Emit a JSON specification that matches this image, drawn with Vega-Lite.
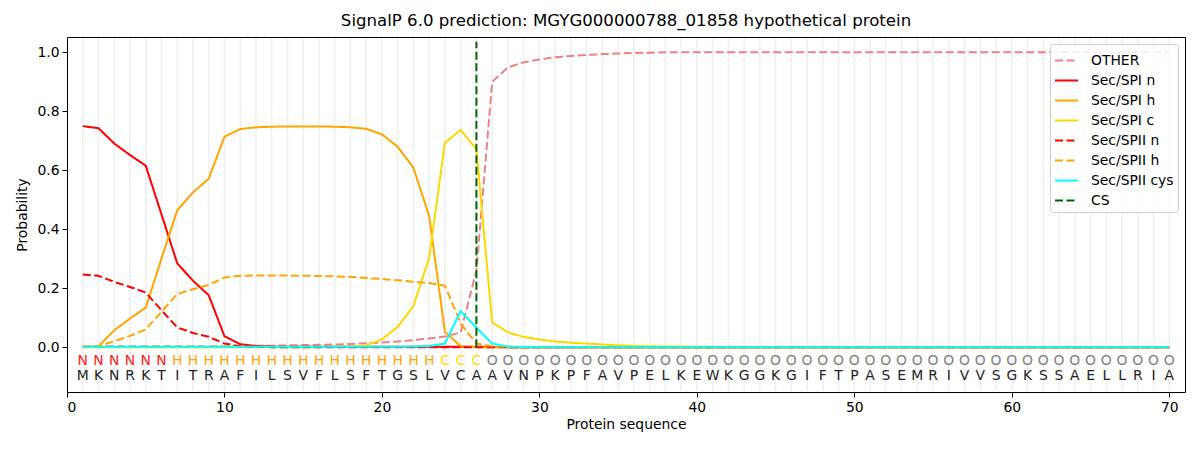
{
  "$schema": "https://vega.github.io/schema/vega-lite/v6.json",
  "width": 1118,
  "height": 355,
  "autosize": {"type": "none"},
  "padding": {"left": 67, "top": 37, "right": 15, "bottom": 58},
  "title": {"text": "SignalP 6.0 prediction: MGYG000000788_01858 hypothetical protein", "offset": 7},
  "datasets": {
    "residues": [
      {"p":1,"aa":"M","lab":"N"},{"p":2,"aa":"K","lab":"N"},{"p":3,"aa":"N","lab":"N"},{"p":4,"aa":"R","lab":"N"},{"p":5,"aa":"K","lab":"N"},
      {"p":6,"aa":"T","lab":"N"},{"p":7,"aa":"I","lab":"H"},{"p":8,"aa":"T","lab":"H"},{"p":9,"aa":"R","lab":"H"},{"p":10,"aa":"A","lab":"H"},
      {"p":11,"aa":"F","lab":"H"},{"p":12,"aa":"I","lab":"H"},{"p":13,"aa":"L","lab":"H"},{"p":14,"aa":"S","lab":"H"},{"p":15,"aa":"V","lab":"H"},
      {"p":16,"aa":"F","lab":"H"},{"p":17,"aa":"L","lab":"H"},{"p":18,"aa":"S","lab":"H"},{"p":19,"aa":"F","lab":"H"},{"p":20,"aa":"T","lab":"H"},
      {"p":21,"aa":"G","lab":"H"},{"p":22,"aa":"S","lab":"H"},{"p":23,"aa":"L","lab":"H"},{"p":24,"aa":"V","lab":"C"},{"p":25,"aa":"C","lab":"C"},
      {"p":26,"aa":"A","lab":"C"},{"p":27,"aa":"A","lab":"O"},{"p":28,"aa":"V","lab":"O"},{"p":29,"aa":"N","lab":"O"},{"p":30,"aa":"P","lab":"O"},
      {"p":31,"aa":"K","lab":"O"},{"p":32,"aa":"P","lab":"O"},{"p":33,"aa":"F","lab":"O"},{"p":34,"aa":"A","lab":"O"},{"p":35,"aa":"V","lab":"O"},
      {"p":36,"aa":"P","lab":"O"},{"p":37,"aa":"E","lab":"O"},{"p":38,"aa":"L","lab":"O"},{"p":39,"aa":"K","lab":"O"},{"p":40,"aa":"E","lab":"O"},
      {"p":41,"aa":"W","lab":"O"},{"p":42,"aa":"K","lab":"O"},{"p":43,"aa":"G","lab":"O"},{"p":44,"aa":"G","lab":"O"},{"p":45,"aa":"K","lab":"O"},
      {"p":46,"aa":"G","lab":"O"},{"p":47,"aa":"I","lab":"O"},{"p":48,"aa":"F","lab":"O"},{"p":49,"aa":"T","lab":"O"},{"p":50,"aa":"P","lab":"O"},
      {"p":51,"aa":"A","lab":"O"},{"p":52,"aa":"S","lab":"O"},{"p":53,"aa":"E","lab":"O"},{"p":54,"aa":"M","lab":"O"},{"p":55,"aa":"R","lab":"O"},
      {"p":56,"aa":"I","lab":"O"},{"p":57,"aa":"V","lab":"O"},{"p":58,"aa":"V","lab":"O"},{"p":59,"aa":"S","lab":"O"},{"p":60,"aa":"G","lab":"O"},
      {"p":61,"aa":"K","lab":"O"},{"p":62,"aa":"S","lab":"O"},{"p":63,"aa":"S","lab":"O"},{"p":64,"aa":"A","lab":"O"},{"p":65,"aa":"E","lab":"O"},
      {"p":66,"aa":"L","lab":"O"},{"p":67,"aa":"L","lab":"O"},{"p":68,"aa":"R","lab":"O"},{"p":69,"aa":"I","lab":"O"},{"p":70,"aa":"A","lab":"O"}
    ],
    "probs": [
      {"s":"OTHER","p":1,"v":0.003},{"s":"OTHER","p":2,"v":0.003},{"s":"OTHER","p":3,"v":0.003},{"s":"OTHER","p":4,"v":0.003},{"s":"OTHER","p":5,"v":0.003},
      {"s":"OTHER","p":6,"v":0.003},{"s":"OTHER","p":7,"v":0.003},{"s":"OTHER","p":8,"v":0.003},{"s":"OTHER","p":9,"v":0.003},{"s":"OTHER","p":10,"v":0.003},
      {"s":"OTHER","p":11,"v":0.004},{"s":"OTHER","p":12,"v":0.005},{"s":"OTHER","p":13,"v":0.005},{"s":"OTHER","p":14,"v":0.006},{"s":"OTHER","p":15,"v":0.007},
      {"s":"OTHER","p":16,"v":0.008},{"s":"OTHER","p":17,"v":0.009},{"s":"OTHER","p":18,"v":0.011},{"s":"OTHER","p":19,"v":0.013},{"s":"OTHER","p":20,"v":0.016},
      {"s":"OTHER","p":21,"v":0.019},{"s":"OTHER","p":22,"v":0.024},{"s":"OTHER","p":23,"v":0.029},{"s":"OTHER","p":24,"v":0.036},{"s":"OTHER","p":25,"v":0.05},
      {"s":"OTHER","p":26,"v":0.26},{"s":"OTHER","p":27,"v":0.899},{"s":"OTHER","p":28,"v":0.948},{"s":"OTHER","p":29,"v":0.965},{"s":"OTHER","p":30,"v":0.975},
      {"s":"OTHER","p":31,"v":0.982},{"s":"OTHER","p":32,"v":0.987},{"s":"OTHER","p":33,"v":0.99},{"s":"OTHER","p":34,"v":0.993},{"s":"OTHER","p":35,"v":0.995},
      {"s":"OTHER","p":36,"v":0.997},{"s":"OTHER","p":37,"v":0.998},{"s":"OTHER","p":38,"v":0.999},{"s":"OTHER","p":39,"v":0.999},{"s":"OTHER","p":40,"v":0.999},
      {"s":"OTHER","p":41,"v":0.999},{"s":"OTHER","p":42,"v":0.999},{"s":"OTHER","p":43,"v":0.999},{"s":"OTHER","p":44,"v":0.999},{"s":"OTHER","p":45,"v":0.999},
      {"s":"OTHER","p":46,"v":0.999},{"s":"OTHER","p":47,"v":0.999},{"s":"OTHER","p":48,"v":0.999},{"s":"OTHER","p":49,"v":0.999},{"s":"OTHER","p":50,"v":0.999},
      {"s":"OTHER","p":51,"v":0.999},{"s":"OTHER","p":52,"v":0.999},{"s":"OTHER","p":53,"v":0.999},{"s":"OTHER","p":54,"v":0.999},{"s":"OTHER","p":55,"v":0.999},
      {"s":"OTHER","p":56,"v":0.999},{"s":"OTHER","p":57,"v":0.999},{"s":"OTHER","p":58,"v":0.999},{"s":"OTHER","p":59,"v":0.999},{"s":"OTHER","p":60,"v":0.999},
      {"s":"OTHER","p":61,"v":0.999},{"s":"OTHER","p":62,"v":0.999},{"s":"OTHER","p":63,"v":0.999},{"s":"OTHER","p":64,"v":0.999},{"s":"OTHER","p":65,"v":0.999},
      {"s":"OTHER","p":66,"v":0.999},{"s":"OTHER","p":67,"v":0.999},{"s":"OTHER","p":68,"v":0.999},{"s":"OTHER","p":69,"v":0.999},{"s":"OTHER","p":70,"v":0.999},

      {"s":"Sec/SPI n","p":1,"v":0.749},{"s":"Sec/SPI n","p":2,"v":0.742},{"s":"Sec/SPI n","p":3,"v":0.69},{"s":"Sec/SPI n","p":4,"v":0.651},{"s":"Sec/SPI n","p":5,"v":0.615},
      {"s":"Sec/SPI n","p":6,"v":0.45},{"s":"Sec/SPI n","p":7,"v":0.284},{"s":"Sec/SPI n","p":8,"v":0.225},{"s":"Sec/SPI n","p":9,"v":0.176},{"s":"Sec/SPI n","p":10,"v":0.037},
      {"s":"Sec/SPI n","p":11,"v":0.01},{"s":"Sec/SPI n","p":12,"v":0.004},{"s":"Sec/SPI n","p":13,"v":0.002},{"s":"Sec/SPI n","p":14,"v":0.001},{"s":"Sec/SPI n","p":15,"v":0.001},
      {"s":"Sec/SPI n","p":16,"v":0.001},{"s":"Sec/SPI n","p":17,"v":0.001},{"s":"Sec/SPI n","p":18,"v":0.001},{"s":"Sec/SPI n","p":19,"v":0.001},{"s":"Sec/SPI n","p":20,"v":0.001},
      {"s":"Sec/SPI n","p":21,"v":0.001},{"s":"Sec/SPI n","p":22,"v":0.001},{"s":"Sec/SPI n","p":23,"v":0.001},{"s":"Sec/SPI n","p":24,"v":0.001},{"s":"Sec/SPI n","p":25,"v":0.001},
      {"s":"Sec/SPI n","p":26,"v":0.001},{"s":"Sec/SPI n","p":27,"v":0.001},{"s":"Sec/SPI n","p":28,"v":0},{"s":"Sec/SPI n","p":29,"v":0},{"s":"Sec/SPI n","p":30,"v":0},
      {"s":"Sec/SPI n","p":31,"v":0},{"s":"Sec/SPI n","p":32,"v":0},{"s":"Sec/SPI n","p":33,"v":0},{"s":"Sec/SPI n","p":34,"v":0},{"s":"Sec/SPI n","p":35,"v":0},
      {"s":"Sec/SPI n","p":36,"v":0},{"s":"Sec/SPI n","p":37,"v":0},{"s":"Sec/SPI n","p":38,"v":0},{"s":"Sec/SPI n","p":39,"v":0},{"s":"Sec/SPI n","p":40,"v":0},
      {"s":"Sec/SPI n","p":41,"v":0},{"s":"Sec/SPI n","p":42,"v":0},{"s":"Sec/SPI n","p":43,"v":0},{"s":"Sec/SPI n","p":44,"v":0},{"s":"Sec/SPI n","p":45,"v":0},
      {"s":"Sec/SPI n","p":46,"v":0},{"s":"Sec/SPI n","p":47,"v":0},{"s":"Sec/SPI n","p":48,"v":0},{"s":"Sec/SPI n","p":49,"v":0},{"s":"Sec/SPI n","p":50,"v":0},
      {"s":"Sec/SPI n","p":51,"v":0},{"s":"Sec/SPI n","p":52,"v":0},{"s":"Sec/SPI n","p":53,"v":0},{"s":"Sec/SPI n","p":54,"v":0},{"s":"Sec/SPI n","p":55,"v":0},
      {"s":"Sec/SPI n","p":56,"v":0},{"s":"Sec/SPI n","p":57,"v":0},{"s":"Sec/SPI n","p":58,"v":0},{"s":"Sec/SPI n","p":59,"v":0},{"s":"Sec/SPI n","p":60,"v":0},
      {"s":"Sec/SPI n","p":61,"v":0},{"s":"Sec/SPI n","p":62,"v":0},{"s":"Sec/SPI n","p":63,"v":0},{"s":"Sec/SPI n","p":64,"v":0},{"s":"Sec/SPI n","p":65,"v":0},
      {"s":"Sec/SPI n","p":66,"v":0},{"s":"Sec/SPI n","p":67,"v":0},{"s":"Sec/SPI n","p":68,"v":0},{"s":"Sec/SPI n","p":69,"v":0},{"s":"Sec/SPI n","p":70,"v":0},

      {"s":"Sec/SPI h","p":1,"v":0},{"s":"Sec/SPI h","p":2,"v":0.003},{"s":"Sec/SPI h","p":3,"v":0.057},{"s":"Sec/SPI h","p":4,"v":0.097},{"s":"Sec/SPI h","p":5,"v":0.134},
      {"s":"Sec/SPI h","p":6,"v":0.3},{"s":"Sec/SPI h","p":7,"v":0.464},{"s":"Sec/SPI h","p":8,"v":0.524},{"s":"Sec/SPI h","p":9,"v":0.571},{"s":"Sec/SPI h","p":10,"v":0.713},
      {"s":"Sec/SPI h","p":11,"v":0.739},{"s":"Sec/SPI h","p":12,"v":0.745},{"s":"Sec/SPI h","p":13,"v":0.747},{"s":"Sec/SPI h","p":14,"v":0.748},{"s":"Sec/SPI h","p":15,"v":0.748},
      {"s":"Sec/SPI h","p":16,"v":0.748},{"s":"Sec/SPI h","p":17,"v":0.747},{"s":"Sec/SPI h","p":18,"v":0.745},{"s":"Sec/SPI h","p":19,"v":0.74},{"s":"Sec/SPI h","p":20,"v":0.721},
      {"s":"Sec/SPI h","p":21,"v":0.679},{"s":"Sec/SPI h","p":22,"v":0.608},{"s":"Sec/SPI h","p":23,"v":0.444},{"s":"Sec/SPI h","p":24,"v":0.052},{"s":"Sec/SPI h","p":25,"v":0.003},
      {"s":"Sec/SPI h","p":26,"v":0},{"s":"Sec/SPI h","p":27,"v":0},{"s":"Sec/SPI h","p":28,"v":0},{"s":"Sec/SPI h","p":29,"v":0},{"s":"Sec/SPI h","p":30,"v":0},
      {"s":"Sec/SPI h","p":31,"v":0},{"s":"Sec/SPI h","p":32,"v":0},{"s":"Sec/SPI h","p":33,"v":0},{"s":"Sec/SPI h","p":34,"v":0},{"s":"Sec/SPI h","p":35,"v":0},
      {"s":"Sec/SPI h","p":36,"v":0},{"s":"Sec/SPI h","p":37,"v":0},{"s":"Sec/SPI h","p":38,"v":0},{"s":"Sec/SPI h","p":39,"v":0},{"s":"Sec/SPI h","p":40,"v":0},
      {"s":"Sec/SPI h","p":41,"v":0},{"s":"Sec/SPI h","p":42,"v":0},{"s":"Sec/SPI h","p":43,"v":0},{"s":"Sec/SPI h","p":44,"v":0},{"s":"Sec/SPI h","p":45,"v":0},
      {"s":"Sec/SPI h","p":46,"v":0},{"s":"Sec/SPI h","p":47,"v":0},{"s":"Sec/SPI h","p":48,"v":0},{"s":"Sec/SPI h","p":49,"v":0},{"s":"Sec/SPI h","p":50,"v":0},
      {"s":"Sec/SPI h","p":51,"v":0},{"s":"Sec/SPI h","p":52,"v":0},{"s":"Sec/SPI h","p":53,"v":0},{"s":"Sec/SPI h","p":54,"v":0},{"s":"Sec/SPI h","p":55,"v":0},
      {"s":"Sec/SPI h","p":56,"v":0},{"s":"Sec/SPI h","p":57,"v":0},{"s":"Sec/SPI h","p":58,"v":0},{"s":"Sec/SPI h","p":59,"v":0},{"s":"Sec/SPI h","p":60,"v":0},
      {"s":"Sec/SPI h","p":61,"v":0},{"s":"Sec/SPI h","p":62,"v":0},{"s":"Sec/SPI h","p":63,"v":0},{"s":"Sec/SPI h","p":64,"v":0},{"s":"Sec/SPI h","p":65,"v":0},
      {"s":"Sec/SPI h","p":66,"v":0},{"s":"Sec/SPI h","p":67,"v":0},{"s":"Sec/SPI h","p":68,"v":0},{"s":"Sec/SPI h","p":69,"v":0},{"s":"Sec/SPI h","p":70,"v":0},

      {"s":"Sec/SPI c","p":1,"v":0},{"s":"Sec/SPI c","p":2,"v":0},{"s":"Sec/SPI c","p":3,"v":0},{"s":"Sec/SPI c","p":4,"v":0},{"s":"Sec/SPI c","p":5,"v":0},
      {"s":"Sec/SPI c","p":6,"v":0},{"s":"Sec/SPI c","p":7,"v":0},{"s":"Sec/SPI c","p":8,"v":0},{"s":"Sec/SPI c","p":9,"v":0},{"s":"Sec/SPI c","p":10,"v":0},
      {"s":"Sec/SPI c","p":11,"v":0},{"s":"Sec/SPI c","p":12,"v":0},{"s":"Sec/SPI c","p":13,"v":0},{"s":"Sec/SPI c","p":14,"v":0},{"s":"Sec/SPI c","p":15,"v":0},
      {"s":"Sec/SPI c","p":16,"v":0},{"s":"Sec/SPI c","p":17,"v":0.001},{"s":"Sec/SPI c","p":18,"v":0.002},{"s":"Sec/SPI c","p":19,"v":0.006},{"s":"Sec/SPI c","p":20,"v":0.026},
      {"s":"Sec/SPI c","p":21,"v":0.069},{"s":"Sec/SPI c","p":22,"v":0.139},{"s":"Sec/SPI c","p":23,"v":0.303},{"s":"Sec/SPI c","p":24,"v":0.693},{"s":"Sec/SPI c","p":25,"v":0.736},
      {"s":"Sec/SPI c","p":26,"v":0.67},{"s":"Sec/SPI c","p":27,"v":0.084},{"s":"Sec/SPI c","p":28,"v":0.05},{"s":"Sec/SPI c","p":29,"v":0.035},{"s":"Sec/SPI c","p":30,"v":0.026},
      {"s":"Sec/SPI c","p":31,"v":0.019},{"s":"Sec/SPI c","p":32,"v":0.015},{"s":"Sec/SPI c","p":33,"v":0.012},{"s":"Sec/SPI c","p":34,"v":0.009},{"s":"Sec/SPI c","p":35,"v":0.006},
      {"s":"Sec/SPI c","p":36,"v":0.004},{"s":"Sec/SPI c","p":37,"v":0.003},{"s":"Sec/SPI c","p":38,"v":0.002},{"s":"Sec/SPI c","p":39,"v":0.002},{"s":"Sec/SPI c","p":40,"v":0.001},
      {"s":"Sec/SPI c","p":41,"v":0.001},{"s":"Sec/SPI c","p":42,"v":0},{"s":"Sec/SPI c","p":43,"v":0},{"s":"Sec/SPI c","p":44,"v":0},{"s":"Sec/SPI c","p":45,"v":0},
      {"s":"Sec/SPI c","p":46,"v":0},{"s":"Sec/SPI c","p":47,"v":0},{"s":"Sec/SPI c","p":48,"v":0},{"s":"Sec/SPI c","p":49,"v":0},{"s":"Sec/SPI c","p":50,"v":0},
      {"s":"Sec/SPI c","p":51,"v":0},{"s":"Sec/SPI c","p":52,"v":0},{"s":"Sec/SPI c","p":53,"v":0},{"s":"Sec/SPI c","p":54,"v":0},{"s":"Sec/SPI c","p":55,"v":0},
      {"s":"Sec/SPI c","p":56,"v":0},{"s":"Sec/SPI c","p":57,"v":0},{"s":"Sec/SPI c","p":58,"v":0},{"s":"Sec/SPI c","p":59,"v":0},{"s":"Sec/SPI c","p":60,"v":0},
      {"s":"Sec/SPI c","p":61,"v":0},{"s":"Sec/SPI c","p":62,"v":0},{"s":"Sec/SPI c","p":63,"v":0},{"s":"Sec/SPI c","p":64,"v":0},{"s":"Sec/SPI c","p":65,"v":0},
      {"s":"Sec/SPI c","p":66,"v":0},{"s":"Sec/SPI c","p":67,"v":0},{"s":"Sec/SPI c","p":68,"v":0},{"s":"Sec/SPI c","p":69,"v":0},{"s":"Sec/SPI c","p":70,"v":0},

      {"s":"Sec/SPII n","p":1,"v":0.246},{"s":"Sec/SPII n","p":2,"v":0.242},{"s":"Sec/SPII n","p":3,"v":0.221},{"s":"Sec/SPII n","p":4,"v":0.204},{"s":"Sec/SPII n","p":5,"v":0.185},
      {"s":"Sec/SPII n","p":6,"v":0.125},{"s":"Sec/SPII n","p":7,"v":0.067},{"s":"Sec/SPII n","p":8,"v":0.048},{"s":"Sec/SPII n","p":9,"v":0.035},{"s":"Sec/SPII n","p":10,"v":0.012},
      {"s":"Sec/SPII n","p":11,"v":0.003},{"s":"Sec/SPII n","p":12,"v":0.001},{"s":"Sec/SPII n","p":13,"v":0},{"s":"Sec/SPII n","p":14,"v":0},{"s":"Sec/SPII n","p":15,"v":0},
      {"s":"Sec/SPII n","p":16,"v":0},{"s":"Sec/SPII n","p":17,"v":0},{"s":"Sec/SPII n","p":18,"v":0},{"s":"Sec/SPII n","p":19,"v":0},{"s":"Sec/SPII n","p":20,"v":0},
      {"s":"Sec/SPII n","p":21,"v":0},{"s":"Sec/SPII n","p":22,"v":0},{"s":"Sec/SPII n","p":23,"v":0},{"s":"Sec/SPII n","p":24,"v":0},{"s":"Sec/SPII n","p":25,"v":0},
      {"s":"Sec/SPII n","p":26,"v":0},{"s":"Sec/SPII n","p":27,"v":0},{"s":"Sec/SPII n","p":28,"v":0},{"s":"Sec/SPII n","p":29,"v":0},{"s":"Sec/SPII n","p":30,"v":0},
      {"s":"Sec/SPII n","p":31,"v":0},{"s":"Sec/SPII n","p":32,"v":0},{"s":"Sec/SPII n","p":33,"v":0},{"s":"Sec/SPII n","p":34,"v":0},{"s":"Sec/SPII n","p":35,"v":0},
      {"s":"Sec/SPII n","p":36,"v":0},{"s":"Sec/SPII n","p":37,"v":0},{"s":"Sec/SPII n","p":38,"v":0},{"s":"Sec/SPII n","p":39,"v":0},{"s":"Sec/SPII n","p":40,"v":0},
      {"s":"Sec/SPII n","p":41,"v":0},{"s":"Sec/SPII n","p":42,"v":0},{"s":"Sec/SPII n","p":43,"v":0},{"s":"Sec/SPII n","p":44,"v":0},{"s":"Sec/SPII n","p":45,"v":0},
      {"s":"Sec/SPII n","p":46,"v":0},{"s":"Sec/SPII n","p":47,"v":0},{"s":"Sec/SPII n","p":48,"v":0},{"s":"Sec/SPII n","p":49,"v":0},{"s":"Sec/SPII n","p":50,"v":0},
      {"s":"Sec/SPII n","p":51,"v":0},{"s":"Sec/SPII n","p":52,"v":0},{"s":"Sec/SPII n","p":53,"v":0},{"s":"Sec/SPII n","p":54,"v":0},{"s":"Sec/SPII n","p":55,"v":0},
      {"s":"Sec/SPII n","p":56,"v":0},{"s":"Sec/SPII n","p":57,"v":0},{"s":"Sec/SPII n","p":58,"v":0},{"s":"Sec/SPII n","p":59,"v":0},{"s":"Sec/SPII n","p":60,"v":0},
      {"s":"Sec/SPII n","p":61,"v":0},{"s":"Sec/SPII n","p":62,"v":0},{"s":"Sec/SPII n","p":63,"v":0},{"s":"Sec/SPII n","p":64,"v":0},{"s":"Sec/SPII n","p":65,"v":0},
      {"s":"Sec/SPII n","p":66,"v":0},{"s":"Sec/SPII n","p":67,"v":0},{"s":"Sec/SPII n","p":68,"v":0},{"s":"Sec/SPII n","p":69,"v":0},{"s":"Sec/SPII n","p":70,"v":0},

      {"s":"Sec/SPII h","p":1,"v":0},{"s":"Sec/SPII h","p":2,"v":0.003},{"s":"Sec/SPII h","p":3,"v":0.02},{"s":"Sec/SPII h","p":4,"v":0.038},{"s":"Sec/SPII h","p":5,"v":0.06},
      {"s":"Sec/SPII h","p":6,"v":0.12},{"s":"Sec/SPII h","p":7,"v":0.18},{"s":"Sec/SPII h","p":8,"v":0.196},{"s":"Sec/SPII h","p":9,"v":0.211},{"s":"Sec/SPII h","p":10,"v":0.236},
      {"s":"Sec/SPII h","p":11,"v":0.242},{"s":"Sec/SPII h","p":12,"v":0.243},{"s":"Sec/SPII h","p":13,"v":0.243},{"s":"Sec/SPII h","p":14,"v":0.243},{"s":"Sec/SPII h","p":15,"v":0.242},
      {"s":"Sec/SPII h","p":16,"v":0.241},{"s":"Sec/SPII h","p":17,"v":0.24},{"s":"Sec/SPII h","p":18,"v":0.238},{"s":"Sec/SPII h","p":19,"v":0.234},{"s":"Sec/SPII h","p":20,"v":0.231},
      {"s":"Sec/SPII h","p":21,"v":0.227},{"s":"Sec/SPII h","p":22,"v":0.222},{"s":"Sec/SPII h","p":23,"v":0.217},{"s":"Sec/SPII h","p":24,"v":0.208},{"s":"Sec/SPII h","p":25,"v":0.08},
      {"s":"Sec/SPII h","p":26,"v":0.012},{"s":"Sec/SPII h","p":27,"v":0.003},{"s":"Sec/SPII h","p":28,"v":0.001},{"s":"Sec/SPII h","p":29,"v":0},{"s":"Sec/SPII h","p":30,"v":0},
      {"s":"Sec/SPII h","p":31,"v":0},{"s":"Sec/SPII h","p":32,"v":0},{"s":"Sec/SPII h","p":33,"v":0},{"s":"Sec/SPII h","p":34,"v":0},{"s":"Sec/SPII h","p":35,"v":0},
      {"s":"Sec/SPII h","p":36,"v":0},{"s":"Sec/SPII h","p":37,"v":0},{"s":"Sec/SPII h","p":38,"v":0},{"s":"Sec/SPII h","p":39,"v":0},{"s":"Sec/SPII h","p":40,"v":0},
      {"s":"Sec/SPII h","p":41,"v":0},{"s":"Sec/SPII h","p":42,"v":0},{"s":"Sec/SPII h","p":43,"v":0},{"s":"Sec/SPII h","p":44,"v":0},{"s":"Sec/SPII h","p":45,"v":0},
      {"s":"Sec/SPII h","p":46,"v":0},{"s":"Sec/SPII h","p":47,"v":0},{"s":"Sec/SPII h","p":48,"v":0},{"s":"Sec/SPII h","p":49,"v":0},{"s":"Sec/SPII h","p":50,"v":0},
      {"s":"Sec/SPII h","p":51,"v":0},{"s":"Sec/SPII h","p":52,"v":0},{"s":"Sec/SPII h","p":53,"v":0},{"s":"Sec/SPII h","p":54,"v":0},{"s":"Sec/SPII h","p":55,"v":0},
      {"s":"Sec/SPII h","p":56,"v":0},{"s":"Sec/SPII h","p":57,"v":0},{"s":"Sec/SPII h","p":58,"v":0},{"s":"Sec/SPII h","p":59,"v":0},{"s":"Sec/SPII h","p":60,"v":0},
      {"s":"Sec/SPII h","p":61,"v":0},{"s":"Sec/SPII h","p":62,"v":0},{"s":"Sec/SPII h","p":63,"v":0},{"s":"Sec/SPII h","p":64,"v":0},{"s":"Sec/SPII h","p":65,"v":0},
      {"s":"Sec/SPII h","p":66,"v":0},{"s":"Sec/SPII h","p":67,"v":0},{"s":"Sec/SPII h","p":68,"v":0},{"s":"Sec/SPII h","p":69,"v":0},{"s":"Sec/SPII h","p":70,"v":0},

      {"s":"Sec/SPII cys","p":1,"v":0.001},{"s":"Sec/SPII cys","p":2,"v":0.001},{"s":"Sec/SPII cys","p":3,"v":0.001},{"s":"Sec/SPII cys","p":4,"v":0.001},{"s":"Sec/SPII cys","p":5,"v":0.001},
      {"s":"Sec/SPII cys","p":6,"v":0.001},{"s":"Sec/SPII cys","p":7,"v":0.001},{"s":"Sec/SPII cys","p":8,"v":0.001},{"s":"Sec/SPII cys","p":9,"v":0.001},{"s":"Sec/SPII cys","p":10,"v":0.001},
      {"s":"Sec/SPII cys","p":11,"v":0.001},{"s":"Sec/SPII cys","p":12,"v":0.001},{"s":"Sec/SPII cys","p":13,"v":0.001},{"s":"Sec/SPII cys","p":14,"v":0.001},{"s":"Sec/SPII cys","p":15,"v":0.001},
      {"s":"Sec/SPII cys","p":16,"v":0.001},{"s":"Sec/SPII cys","p":17,"v":0.001},{"s":"Sec/SPII cys","p":18,"v":0.001},{"s":"Sec/SPII cys","p":19,"v":0.001},{"s":"Sec/SPII cys","p":20,"v":0.001},
      {"s":"Sec/SPII cys","p":21,"v":0.001},{"s":"Sec/SPII cys","p":22,"v":0.002},{"s":"Sec/SPII cys","p":23,"v":0.004},{"s":"Sec/SPII cys","p":24,"v":0.012},{"s":"Sec/SPII cys","p":25,"v":0.122},
      {"s":"Sec/SPII cys","p":26,"v":0.066},{"s":"Sec/SPII cys","p":27,"v":0.012},{"s":"Sec/SPII cys","p":28,"v":0.002},{"s":"Sec/SPII cys","p":29,"v":0.001},{"s":"Sec/SPII cys","p":30,"v":0},
      {"s":"Sec/SPII cys","p":31,"v":0},{"s":"Sec/SPII cys","p":32,"v":0},{"s":"Sec/SPII cys","p":33,"v":0},{"s":"Sec/SPII cys","p":34,"v":0},{"s":"Sec/SPII cys","p":35,"v":0},
      {"s":"Sec/SPII cys","p":36,"v":0},{"s":"Sec/SPII cys","p":37,"v":0},{"s":"Sec/SPII cys","p":38,"v":0},{"s":"Sec/SPII cys","p":39,"v":0},{"s":"Sec/SPII cys","p":40,"v":0},
      {"s":"Sec/SPII cys","p":41,"v":0},{"s":"Sec/SPII cys","p":42,"v":0},{"s":"Sec/SPII cys","p":43,"v":0},{"s":"Sec/SPII cys","p":44,"v":0},{"s":"Sec/SPII cys","p":45,"v":0},
      {"s":"Sec/SPII cys","p":46,"v":0},{"s":"Sec/SPII cys","p":47,"v":0},{"s":"Sec/SPII cys","p":48,"v":0},{"s":"Sec/SPII cys","p":49,"v":0},{"s":"Sec/SPII cys","p":50,"v":0},
      {"s":"Sec/SPII cys","p":51,"v":0},{"s":"Sec/SPII cys","p":52,"v":0},{"s":"Sec/SPII cys","p":53,"v":0},{"s":"Sec/SPII cys","p":54,"v":0},{"s":"Sec/SPII cys","p":55,"v":0},
      {"s":"Sec/SPII cys","p":56,"v":0},{"s":"Sec/SPII cys","p":57,"v":0},{"s":"Sec/SPII cys","p":58,"v":0},{"s":"Sec/SPII cys","p":59,"v":0},{"s":"Sec/SPII cys","p":60,"v":0},
      {"s":"Sec/SPII cys","p":61,"v":0},{"s":"Sec/SPII cys","p":62,"v":0},{"s":"Sec/SPII cys","p":63,"v":0},{"s":"Sec/SPII cys","p":64,"v":0},{"s":"Sec/SPII cys","p":65,"v":0},
      {"s":"Sec/SPII cys","p":66,"v":0},{"s":"Sec/SPII cys","p":67,"v":0},{"s":"Sec/SPII cys","p":68,"v":0},{"s":"Sec/SPII cys","p":69,"v":0},{"s":"Sec/SPII cys","p":70,"v":0},

      {"s":"CS","p":26,"v":0},{"s":"CS","p":26,"v":1.035}
    ]
  },
  "layer": [
    {
      "data": {"name": "residues"},
      "mark": {"type": "rule", "color": "#efefef", "strokeWidth": 1.5},
      "encoding": {
        "x": {"field": "p", "type": "quantitative"},
        "y": {"datum": -0.149},
        "y2": {"datum": 1.048}
      }
    },
    {
      "data": {"name": "probs"},
      "mark": {"type": "line", "strokeWidth": 2},
      "encoding": {
        "x": {
          "field": "p", "type": "quantitative", "title": "Protein sequence",
          "scale": {"domain": [0, 71], "nice": false, "zero": false},
          "axis": {"values": [0, 10, 20, 30, 40, 50, 60, 70]}
        },
        "y": {
          "field": "v", "type": "quantitative", "title": "Probability",
          "scale": {"domain": [-0.152, 1.051], "nice": false},
          "axis": {"values": [0, 0.2, 0.4, 0.6, 0.8, 1.0], "format": ".1f"}
        },
        "color": {
          "field": "s", "type": "nominal", "title": null,
          "scale": {
            "domain": ["OTHER", "Sec/SPI n", "Sec/SPI h", "Sec/SPI c", "Sec/SPII n", "Sec/SPII h", "Sec/SPII cys", "CS"],
            "range": ["#f08080", "#ff0000", "#ffa500", "#ffd700", "#ff0000", "#ffa500", "#00ffff", "#006400"]
          }
        },
        "strokeDash": {
          "field": "s", "type": "nominal", "title": null,
          "scale": {
            "domain": ["OTHER", "Sec/SPI n", "Sec/SPI h", "Sec/SPI c", "Sec/SPII n", "Sec/SPII h", "Sec/SPII cys", "CS"],
            "range": [[8, 3.5], [1, 0], [1, 0], [1, 0], [8, 3.5], [8, 3.5], [1, 0], [8, 3.5]]
          }
        }
      }
    },
    {
      "data": {"name": "residues"},
      "mark": {"type": "text", "fontSize": 13.9, "baseline": "middle"},
      "encoding": {
        "x": {"field": "p", "type": "quantitative"},
        "y": {"datum": -0.046},
        "text": {"field": "lab"},
        "fill": {
          "field": "lab", "type": "nominal", "legend": null,
          "scale": {"domain": ["N", "H", "C", "O"], "range": ["#ff2020", "#ffa500", "#ffd700", "#808080"]}
        }
      }
    },
    {
      "data": {"name": "residues"},
      "mark": {"type": "text", "fontSize": 13.9, "baseline": "middle", "color": "#222222"},
      "encoding": {
        "x": {"field": "p", "type": "quantitative"},
        "y": {"datum": -0.097},
        "text": {"field": "aa"}
      }
    }
  ],
  "config": {
    "font": "DejaVu Sans",
    "view": {"stroke": "black", "strokeWidth": 1},
    "title": {"font": "DejaVu Sans", "fontSize": 16.6, "fontWeight": "normal", "color": "black"},
    "axis": {
      "grid": false,
      "domain": false,
      "tickColor": "black",
      "tickSize": 5,
      "labelFont": "DejaVu Sans",
      "labelFontSize": 13.9,
      "labelColor": "black",
      "labelPadding": 3,
      "titleFont": "DejaVu Sans",
      "titleFontSize": 13.9,
      "titleFontWeight": "normal",
      "titleColor": "black"
    },
    "axisX": {"titlePadding": 4},
    "axisY": {"titlePadding": 7},
    "legend": {
      "orient": "top-right",
      "offset": 7,
      "padding": 4,
      "fillColor": "rgba(255,255,255,0.85)",
      "strokeColor": "#cccccc",
      "cornerRadius": 3,
      "symbolType": "stroke",
      "symbolSize": 529,
      "symbolStrokeWidth": 2,
      "labelFont": "DejaVu Sans",
      "labelFontSize": 13.9,
      "labelColor": "black",
      "rowPadding": -2,
      "labelOffset": 12
    }
  }
}
